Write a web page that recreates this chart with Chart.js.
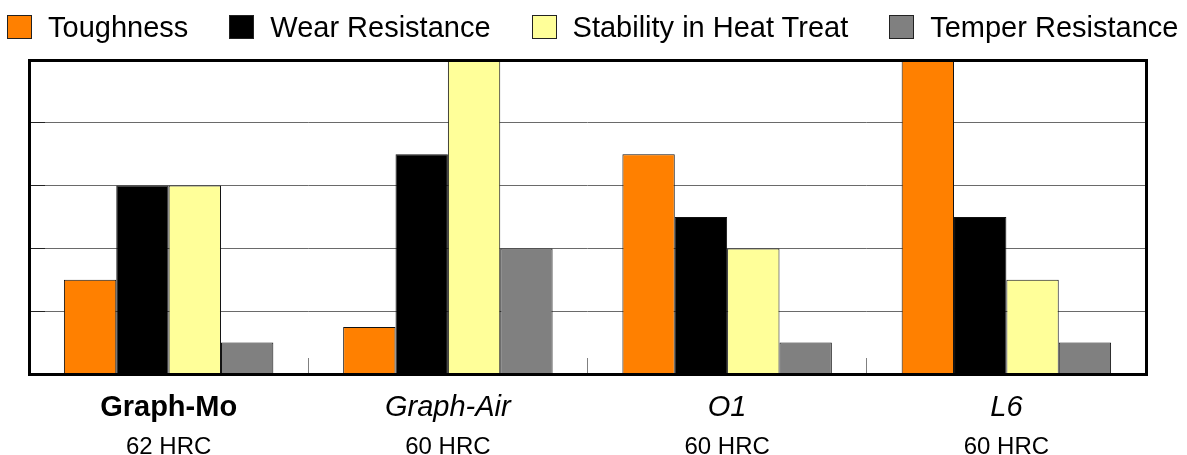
<!DOCTYPE html>
<html><head><meta charset="utf-8">
<script src="https://cdn.jsdelivr.net/npm/chart.js@4.4.1/dist/chart.umd.min.js"></script>
<style>
html,body{margin:0;padding:0;background:#fff;}
#wrap{position:relative;width:1187px;height:455px;overflow:hidden;}
#legend{position:absolute;left:7px;top:15px;display:flex;align-items:center;height:24px;font-family:'Liberation Sans',Arial,sans-serif;font-size:29px;color:#000;white-space:nowrap;}
.item{display:flex;align-items:center;margin-right:41px;height:24px;}
.box{width:23px;height:22px;border:1px solid #222;margin-right:16px;flex:none;}
canvas{position:absolute;left:0;top:0;}
</style></head><body>
<div id="wrap"><canvas id="c" width="1187" height="455"></canvas><div id="legend"></div></div>
<script>
const categories = ['Graph-Mo', 'Graph-Air', 'O1', 'L6'];
const hardness = ['62 HRC', '60 HRC', '60 HRC', '60 HRC'];
const seriesNames = ['Toughness', 'Wear Resistance', 'Stability in Heat Treat', 'Temper Resistance'];
const toughness = [1.5, 0.75, 3.5, 5];
const wearResistance = [3, 3.5, 2.5, 2.5];
const stabilityInHeatTreat = [3, 5, 2, 1.5];
const temperResistance = [0.5, 2, 0.5, 0.5];
const yTicks = [0, 1, 2, 3, 4, 5];

const seriesColors = ['#FF8000', '#000000', '#FFFF99', '#808080'];
const family = "'Liberation Sans', Arial, sans-serif";
Chart.defaults.font.family = family;

const seriesValues = [toughness, wearResistance, stabilityInHeatTreat, temperResistance];

// HTML legend (real text)
const legendEl = document.getElementById('legend');
seriesNames.forEach((name, i) => {
  const item = document.createElement('div');
  item.className = 'item';
  const box = document.createElement('div');
  box.className = 'box';
  box.style.background = seriesColors[i];
  const txt = document.createElement('span');
  txt.textContent = name;
  item.appendChild(box);
  item.appendChild(txt);
  legendEl.appendChild(item);
});

const framePlugin = {
  id: 'frame',
  afterDatasetsDraw(chart) {
    const { ctx, chartArea: a } = chart;
    ctx.save();
    ctx.strokeStyle = '#000';
    ctx.lineWidth = 3;
    ctx.strokeRect(a.left + 0.5, a.top + 0.5, a.right - a.left, a.bottom - a.top);
    ctx.restore();
  }
};

new Chart(document.getElementById('c'), {
  type: 'bar',
  data: {
    labels: categories,
    datasets: seriesNames.map((name, i) => ({
      label: name,
      data: seriesValues[i],
      backgroundColor: seriesColors[i],
      borderColor: '#111',
      borderWidth: 1,
      barPercentage: 1,
      categoryPercentage: 0.75
    }))
  },
  options: {
    responsive: false,
    animation: false,
    devicePixelRatio: 1,
    layout: { padding: { left: 29, right: 41, top: 60, bottom: 0 } },
    plugins: { legend: { display: false }, tooltip: { enabled: false } },
    scales: {
      x: {
        type: 'category',
        position: 'bottom',
        weight: 0,
        offset: true,
        grid: { display: true, offset: true, drawOnChartArea: false, drawTicks: true, tickLength: -16, tickColor: '#808080', tickWidth: 1 },
        border: { display: false },
        ticks: {
          padding: 33,
          color: '#000',
          maxRotation: 0,
          autoSkip: false,
          font: (c) => ({
            family: family,
            size: 29,
            weight: c.index === 0 ? 'bold' : 'normal',
            style: c.index === 0 ? 'normal' : 'italic'
          })
        },
        afterFit: (s) => { s.height = 55; }
      },
      x2: {
        type: 'category',
        labels: hardness,
        position: 'bottom',
        weight: 1,
        offset: true,
        grid: { display: false, drawTicks: false },
        border: { display: false },
        ticks: { padding: 4, color: '#000', maxRotation: 0, autoSkip: false, font: { family: family, size: 24 } },
        afterFit: (s) => { s.height = 26; }
      },
      y: {
        min: yTicks[0],
        max: yTicks[yTicks.length - 1],
        afterBuildTicks: (s) => { s.ticks = yTicks.map(v => ({ value: v })); },
        ticks: { display: false },
        grid: { color: '#6a6a6a', lineWidth: 1, drawTicks: true, tickLength: -16, tickColor: '#222', tickWidth: 1 },
        border: { display: false },
        afterFit: (s) => { s.width = 0; }
      }
    }
  },
  plugins: [framePlugin]
});
</script>
</body></html>
